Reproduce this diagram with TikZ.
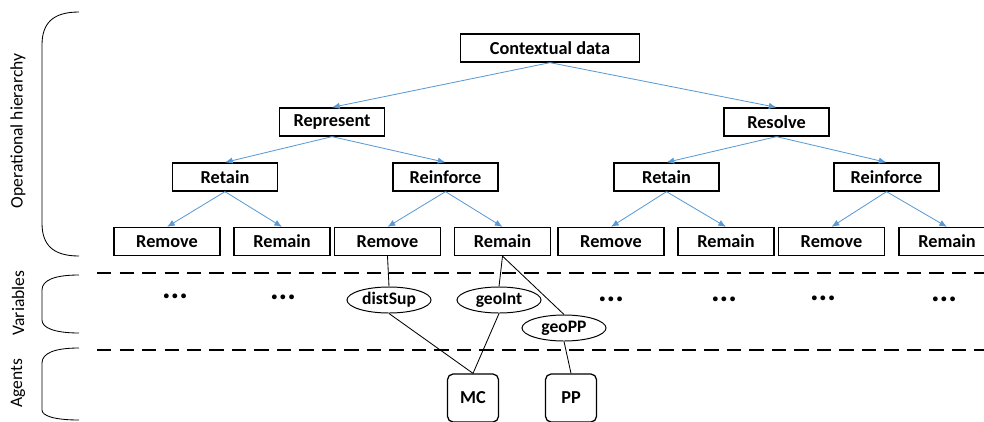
\documentclass[tikz,border=0pt]{standalone}
\usepackage{fontspec}
\setmainfont{Carlito}
\usetikzlibrary{shapes.geometric, positioning, arrows.meta}
\definecolor{arrowBlue}{RGB}{91,155,213}
\tikzset{opNode/.style={shape=rectangle, draw, line width=0.9pt, minimum height=0.7cm, minimum width=2.625cm, inner sep=0pt, font=\fontsize{13}{15}\selectfont\bfseries}}
\tikzset{varNode/.style={shape=ellipse, draw, line width=0.7pt, minimum width=2.1cm, minimum height=0.65cm, inner sep=0pt, font=\fontsize{12.5}{14}\selectfont\bfseries}}
\tikzset{agentNode/.style={shape=rectangle, rounded corners=4pt, draw, line width=0.9pt, minimum width=1.275cm, minimum height=1.2cm, inner sep=0pt, font=\fontsize{13}{15}\selectfont\bfseries}}
\tikzset{annotation/.style={shape=rectangle, align=center, draw=none, inner sep=0pt, font=\fontsize{12.5}{14}\selectfont}}
\tikzset{dotsNode/.style={shape=rectangle, draw=none, inner sep=0pt, font=\fontsize{23}{23}\selectfont\bfseries}}
\tikzset{hierArrow/.style={draw=arrowBlue, line width=0.6pt, -{Latex[length=5.5pt, width=4.5pt]}}}
\tikzset{link/.style={draw, line width=0.6pt}}

\begin{document}
\begin{tikzpicture}[x=0.025cm, y=-0.025cm]

\useasboundingbox (0,0) rectangle (984,421);

% Operational hierarchy
\node[opNode, minimum width=4.475cm] (ctx) at (550,48) {Contextual data};

\node[opNode] (rep) at (332,122) {Represent};
\node[opNode] (res) at (776.5,122) {Resolve};

\node[opNode] (rep1) at (225,177) {Retain};
\node[opNode] (rep2) at (445.5,177) {Reinforce};
\node[opNode] (res1) at (666.5,177) {Retain};
\node[opNode] (res2) at (886.5,177) {Reinforce};

\node[opNode, minimum width=2.65cm] (rep11) at (167,241.5) {Remove};
\node[opNode, minimum width=2.4cm] (rep12) at (282,241.5) {Remain};
\node[opNode, minimum width=2.65cm] (rep21) at (387.5,241.5) {Remove};
\node[opNode, minimum width=2.4cm] (rep22) at (502.5,241.5) {Remain};
\node[opNode, minimum width=2.65cm] (res11) at (611,241.5) {Remove};
\node[opNode, minimum width=2.4cm] (res12) at (726,241.5) {Remain};
\node[opNode, minimum width=2.65cm] (res21) at (831.5,241.5) {Remove};
\node[opNode, minimum width=2.4cm] (res22) at (947,241.5) {Remain};

\draw[hierArrow] (ctx.south) -- (rep.north);
\draw[hierArrow] (ctx.south) -- (res.north);
\draw[hierArrow] (rep.south) -- (rep1.north);
\draw[hierArrow] (rep.south) -- (rep2.north);
\draw[hierArrow] (res.south) -- (res1.north);
\draw[hierArrow] (res.south) -- (res2.north);
\draw[hierArrow] (rep1.south) -- (rep11.north);
\draw[hierArrow] (rep1.south) -- (rep12.north);
\draw[hierArrow] (rep2.south) -- (rep21.north);
\draw[hierArrow] (rep2.south) -- (rep22.north);
\draw[hierArrow] (res1.south) -- (res11.north);
\draw[hierArrow] (res1.south) -- (res12.north);
\draw[hierArrow] (res2.south) -- (res21.north);
\draw[hierArrow] (res2.south) -- (res22.north);

% Layer borders
\draw[line width=1.4pt, dash pattern=on 10pt off 6pt] (97,273) -- (984,273);
\draw[line width=1.4pt, dash pattern=on 10pt off 6pt] (97,350) -- (984,350);

% Variables
\node[varNode] (distSup) at (389,300) {distSup};
\node[varNode] (geoInt) at (499,300) {geoInt};
\node[varNode] (geoPP) at (564,328) {geoPP};

\node[dotsNode] (dots1) at (175,296) {...};
\node[dotsNode] (dots2) at (283,297) {...};
\node[dotsNode] (dots3) at (611,299) {...};
\node[dotsNode] (dots4) at (724,299) {...};
\node[dotsNode] (dots5) at (823,298) {...};
\node[dotsNode] (dots6) at (944,299) {...};

% Agents
\node[agentNode] (mc) at (473,398) {MC};
\node[agentNode] (pp) at (571,398) {PP};

\draw[link] (rep21.south) -- (distSup.north);
\draw[link] (rep22.south) -- (geoInt.north);
\draw[link] (rep22.south) -- (geoPP.north);
\draw[link] (distSup.south) -- (mc.north);
\draw[link] (geoInt.south) -- (mc.north);
\draw[link] (pp.north) -- (geoPP.south);

% Side brackets
\draw[line width=0.6pt] (79,12) .. controls (52,12) and (42,24) .. (42,45) -- (42,223) .. controls (42,244) and (52,256) .. (79,256);
\draw[line width=0.6pt] (79,275) .. controls (55,275) and (42,280) .. (42,290) -- (42,320) .. controls (42,328) and (55,333) .. (79,333);
\draw[line width=0.6pt] (79,348) .. controls (55,348) and (42,353) .. (42,363) -- (42,410) .. controls (42,416) and (55,420) .. (79,420);

\node[annotation, rotate=90] (opLabel) at (18,131) {Operational hierarchy};
\node[annotation, rotate=90] (varLabel) at (18,303) {Variables};
\node[annotation, rotate=90] (agLabel) at (18,383) {Agents};

\end{tikzpicture}
\end{document}
